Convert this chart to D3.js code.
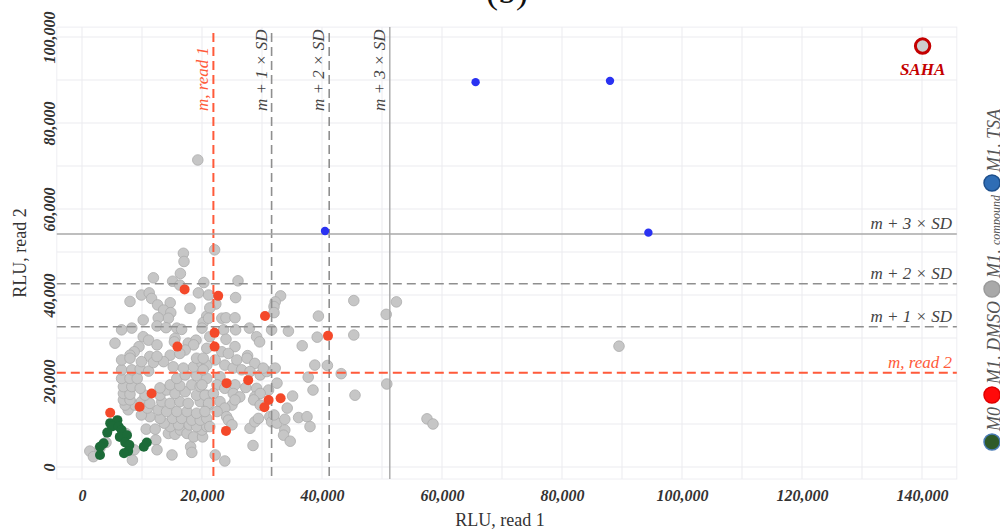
<!DOCTYPE html>
<html>
<head>
<meta charset="utf-8">
<script src="https://cdn.jsdelivr.net/npm/d3@7"></script>
<style>
  body { margin: 0; background: #fff; }
  svg { display: block; font-family: "Liberation Serif", "Times New Roman", serif; }
</style>
</head>
<body>
<div id="chart"></div>
<script>
// values in thousands of RLU: [read 1, read 2]
const m0Points = [
  [4.7,10.2],[5.9,10.9],[5.0,9.4],[6.1,9.4],[6.6,8.6],[4.2,8.0],[6.3,7.0],[7.5,7.4],[7.2,5.7],
  [3.6,5.5],[3.0,4.7],[7.9,5.1],[10.8,5.7],[10.3,4.7],[7.7,3.7],[7.0,3.2],[3.0,2.8]
];
const dmsoPoints = [
  [17.1,41.3],[22.7,39.8],[30.5,35.1],[22.1,31.2],[41.0,30.5],[15.9,28.0],[22.1,28.0],[4.7,12.6],
  [9.6,14.0],[11.6,17.1],[24.1,19.5],[27.7,20.2],[31.1,15.6],[33.1,16.0],[30.4,13.9],[24.0,8.4]
];
const tsaPoints = [[65.6,89.5],[88.0,89.8],[40.5,54.9],[94.4,54.5]];
const sahaPoint = [140.1,97.9];
const compoundPoints = [
  [19.3,71.4],[89.5,28.1],[57.5,11.2],[58.5,10.0],[50.8,19.3],[45.5,16.7],[38.5,17.9],[45.3,38.7],
  [52.4,38.4],[50.7,35.5],[45.3,30.7],[39.4,35.1],[39.2,30.2],[36.7,28.2],[38.8,23.7],[40.9,23.6],
  [43.2,21.7],[37.7,20.9],[35.1,16.5],[34.4,31.6],[33.1,39.8],
  [16.9,49.7],[17.0,47.8],[11.9,44.0],[16.4,45.0],[15.1,43.2],[20.3,42.9],[16.3,42.3],[19.4,40.5],
  [21.1,40.0],[9.9,40.0],[11.2,40.5],[11.6,39.2],[8.0,38.5],[12.6,37.7],[14.7,38.2],[13.6,36.5],
  [18.0,36.9],[14.8,35.9],[14.4,34.6],[12.7,34.7],[10.2,34.2],[20.8,35.1],[20.2,33.6],[12.5,32.8],
  [14.0,32.4],[15.8,32.3],[16.6,32.0],[8.3,32.3],[6.6,31.9],[10.2,30.3],[11.1,29.5],[12.5,28.4],
  [15.5,29.9],[15.4,29.1],[17.7,28.8],[19.0,29.5],[18.6,28.4],[17.2,27.2],[9.5,28.0],[5.5,28.8],
  [8.7,26.8],[8.0,26.0],[20.8,27.6],[14.7,26.0],[11.3,25.7],[16.3,26.4],
  [22.1,50.5],[26.0,43.3],[25.6,39.4],[22.3,37.9],[21.3,37.0],[32.2,38.4],[32.0,37.3],[32.0,35.9],
  [23.3,34.6],[24.0,34.7],[25.5,34.7],[21.1,34.6],[20.0,32.3],[23.6,31.9],[25.6,31.9],[27.9,32.3],
  [31.6,31.9],[21.3,30.3],[24.0,29.7],[29.1,30.3],[29.6,29.1],[25.5,28.0],[23.3,26.8],[24.4,26.4],
  [27.6,25.9],
  [1.3,3.7],[1.9,2.4],[4.0,5.7],[7.3,7.8],[8.7,4.0],[8.4,1.6],[12.3,6.3],[12.5,4.0],[10.7,8.8],
  [12.2,8.8],[15.0,2.8],[18.1,4.7],[18.3,3.4],[14.4,7.8],[15.5,7.6],[16.4,8.6],[17.5,7.8],[18.6,7.0],
  [20.1,7.0],[20.0,8.6],[14.7,9.4],[16.1,9.8],[17.9,9.8],[19.1,9.4],[20.8,9.4],[13.7,10.2],[13.0,11.3],
  [15.1,11.3],[16.6,11.3],[18.3,10.9],[19.7,10.9],[20.8,11.3],[11.3,11.7],[9.9,12.1],[12.7,13.3],
  [14.1,12.9],[15.8,12.9],[17.5,12.9],[19.1,12.5],[7.7,13.3],[8.8,14.4],[10.9,13.7],[7.2,14.4],
  [6.9,15.6],[8.0,15.6],[9.9,15.2],[11.3,14.8],[13.3,15.2],[14.7,14.8],[16.3,15.2],[17.7,14.8],
  [19.7,15.2],[21.1,14.4],[6.9,17.1],[8.0,16.9],[10.5,16.7],[13.0,16.7],[14.1,17.9],[15.5,17.1],
  [17.2,17.5],[19.1,16.7],[20.8,16.7],[6.9,18.7],[8.3,18.7],[9.7,18.3],[13.0,18.4],[14.7,19.1],
  [16.3,18.9],[18.3,19.1],[19.7,18.7],[6.6,20.6],[8.0,20.6],[9.2,20.6],[15.8,20.6],[17.2,21.4],
  [19.1,21.2],[20.8,20.6],[6.6,22.6],[8.3,22.6],[9.7,22.8],[11.1,22.3],[11.9,24.3],[13.6,24.5],
  [9.9,24.5],[6.6,24.9],[8.0,25.3],[15.2,23.3],[16.9,23.0],[18.6,23.3],[20.0,24.1],[19.1,25.3],
  [20.8,23.7],[12.5,25.7],
  [20.2,25.3],[22.2,24.9],[23.8,23.7],[25.2,23.0],[25.8,24.9],[27.5,25.3],[28.8,24.1],[26.6,22.6],
  [28.0,22.2],[29.7,21.4],[30.8,22.2],[32.2,23.0],[30.2,23.0],[20.2,22.6],[23.0,21.0],[20.0,19.1],
  [22.5,19.1],[23.8,18.3],[25.5,19.1],[27.3,18.5],[29.1,18.3],[31.1,17.9],[32.5,19.5],[20.5,16.7],
  [21.9,17.1],[25.2,17.1],[26.3,16.3],[28.8,16.3],[29.7,17.1],[34.2,13.7],[21.1,14.8],[23.0,15.2],
  [25.0,14.4],[25.5,15.6],[23.8,13.7],[28.6,15.6],[29.7,14.4],[20.5,12.9],[22.5,12.9],[24.1,11.7],
  [24.4,10.9],[21.3,9.4],[25.0,9.8],[28.0,9.0],[28.8,10.5],[29.4,11.3],[31.3,11.7],[31.6,10.5],
  [32.5,10.2],[32.0,12.1],[33.8,11.1],[36.1,11.5],[37.5,11.7],[38.0,9.4],[33.8,8.6],[33.6,7.4],
  [34.7,6.0],[28.5,5.0],[22.2,2.8],[23.8,1.4],[3.0,4.4]
];

// mean and mean + k*SD thresholds (thousands)
const vRefValues = [21.9, 31.6, 41.2, 51.3];
const vRefLabels = ["m, read 1", "m + 1 × SD", "m + 2 × SD", "m + 3 × SD"];
const hRefValues = [21.9, 32.6, 42.6, 54.2];
const hRefLabels = ["m, read 2", "m + 1 × SD", "m + 2 × SD", "m + 3 × SD"];

const xTicks = [0, 20, 40, 60, 80, 100, 120, 140];
const yTicks = [0, 20, 40, 60, 80, 100];
const legendLabels = ["M0", "M1, DMSO", "M1, compound", "M1, TSA"];

const W = 1000, H = 531;
const x = d3.scaleLinear().domain([0, 140]).range([82, 922]);
const y = d3.scaleLinear().domain([0, 100]).range([467, 37]);
const panel = { x0: x(-4.2), x1: x(145.8), y0: y(102.3), y1: y(-2.8) };
const fmt = d => d3.format(",")(d * 1000);

const refStyle = [
  { stroke: "#ff5a3a", width: 2, dash: "9,5", text: "#ff5a3a" },
  { stroke: "#8f8f8f", width: 1.6, dash: "9,5", text: "#444" },
  { stroke: "#8f8f8f", width: 1.6, dash: "9,5", text: "#444" },
  { stroke: "#a8a8a8", width: 1.4, dash: null, text: "#444" }
];

const svg = d3.select("#chart").append("svg")
  .attr("width", W).attr("height", H);

// title (cut at the top, as in the figure)
svg.append("text")
  .attr("x", 507).attr("y", 3)
  .attr("text-anchor", "middle")
  .style("font-size", "36px")
  .attr("fill", "#111")
  .text("(b)");

// panel + grid
svg.append("rect")
  .attr("x", panel.x0).attr("y", panel.y0)
  .attr("width", panel.x1 - panel.x0).attr("height", panel.y1 - panel.y0)
  .attr("fill", "#fff").attr("stroke", "#eeeef2");

const grid = svg.append("g").attr("stroke", "#ebebef").attr("stroke-width", 1);
grid.selectAll("line.gx")
  .data(d3.range(0, 141, 10))
  .enter().append("line")
  .attr("x1", d => x(d)).attr("x2", d => x(d))
  .attr("y1", panel.y0).attr("y2", panel.y1);
grid.selectAll("line.gy")
  .data(d3.range(0, 101, 10))
  .enter().append("line")
  .attr("x1", panel.x0).attr("x2", panel.x1)
  .attr("y1", d => y(d)).attr("y2", d => y(d));

// axes
const xAxis = d3.axisBottom(x).tickValues(xTicks).tickFormat(fmt).tickSize(0).tickPadding(11);
svg.append("g")
  .attr("transform", `translate(0,${panel.y1})`)
  .call(xAxis)
  .call(g => g.select(".domain").remove())
  .selectAll("text")
  .style("font-family", "'Liberation Serif', serif")
  .style("font-size", "16px").style("font-weight", "bold").style("font-style", "italic")
  .attr("fill", "#333");

const yAxis = d3.axisLeft(y).tickValues(yTicks).tickFormat(fmt).tickSize(0);
svg.append("g")
  .attr("transform", `translate(${panel.x0},0)`)
  .call(yAxis)
  .call(g => g.select(".domain").remove())
  .selectAll("text")
  .attr("x", 0).attr("dy", 0)
  .attr("transform", "translate(-2,0) rotate(-90)")
  .style("text-anchor", "middle")
  .style("font-family", "'Liberation Serif', serif")
  .style("font-size", "16px").style("font-weight", "bold").style("font-style", "italic")
  .attr("fill", "#333");

svg.append("text")
  .attr("x", 500).attr("y", 526)
  .attr("text-anchor", "middle")
  .style("font-size", "18px").attr("fill", "#333")
  .text("RLU, read 1");
svg.append("text")
  .attr("transform", `translate(26,${(panel.y0 + panel.y1) / 2}) rotate(-90)`)
  .attr("text-anchor", "middle")
  .style("font-size", "18px").attr("fill", "#333")
  .text("RLU, read 2");

// compound points (under the reference lines)
svg.append("g").selectAll("circle")
  .data(compoundPoints)
  .enter().append("circle")
  .attr("cx", d => x(d[0])).attr("cy", d => y(d[1]))
  .attr("r", 5.3)
  .attr("fill", "#c6c6c6").attr("stroke", "#acacac").attr("stroke-width", 0.8);

// reference lines
const vRef = svg.append("g");
vRefValues.forEach((v, i) => {
  const s = refStyle[i];
  vRef.append("line")
    .attr("x1", x(v)).attr("x2", x(v))
    .attr("y1", i === 3 ? panel.y0 : panel.y0 + 6).attr("y2", panel.y1)
    .attr("stroke", s.stroke).attr("stroke-width", s.width)
    .attr("stroke-dasharray", s.dash);
  vRef.append("text")
    .attr("transform", `translate(${x(v) - 5},111) rotate(-90)`)
    .style("font-size", "17px").style("font-style", "italic")
    .attr("fill", s.text)
    .text(vRefLabels[i]);
});

const hRef = svg.append("g");
hRefValues.forEach((v, i) => {
  const s = refStyle[i];
  hRef.append("line")
    .attr("x1", panel.x0).attr("x2", panel.x1)
    .attr("y1", y(v)).attr("y2", y(v))
    .attr("stroke", s.stroke).attr("stroke-width", s.width)
    .attr("stroke-dasharray", s.dash);
  hRef.append("text")
    .attr("x", 952).attr("y", y(v) - 5)
    .attr("text-anchor", "end")
    .style("font-size", "17px").style("font-style", "italic")
    .attr("fill", s.text)
    .text(hRefLabels[i]);
});

// coloured groups
const drawPoints = (data, fill, r) => svg.append("g").selectAll("circle")
  .data(data)
  .enter().append("circle")
  .attr("cx", d => x(d[0])).attr("cy", d => y(d[1]))
  .attr("r", r).attr("fill", fill);

drawPoints(dmsoPoints, "#f4492a", 5);
drawPoints(m0Points, "#1c6b38", 5);
drawPoints(tsaPoints, "#2a32f2", 4.2);

// SAHA control
svg.append("circle")
  .attr("cx", x(sahaPoint[0])).attr("cy", y(sahaPoint[1]))
  .attr("r", 7.2)
  .attr("fill", "#cdcdcd").attr("stroke", "#c40000").attr("stroke-width", 3);
svg.append("text")
  .attr("x", x(sahaPoint[0])).attr("y", y(sahaPoint[1]) + 29)
  .attr("text-anchor", "middle")
  .style("font-size", "17px").style("font-weight", "bold").style("font-style", "italic")
  .attr("fill", "#c40000")
  .text("SAHA");

// legend, vertical, read bottom to top; clipped by the right edge like the figure
const legendColors = [
  { fill: "#2f5a28", stroke: "#4a7bb5" },
  { fill: "#ff0a0a", stroke: "#e00000" },
  { fill: "#a9a9a9", stroke: "#9a9a9a" },
  { fill: "#2f6db5", stroke: "#1d4f8c" }
];
const legend = svg.append("g");
let ly = 442;
legendLabels.forEach((lab, i) => {
  legend.append("circle")
    .attr("cx", 992).attr("cy", ly).attr("r", 8)
    .attr("fill", legendColors[i].fill)
    .attr("stroke", legendColors[i].stroke).attr("stroke-width", 1.5);
  const t = legend.append("text")
    .attr("transform", `translate(1000,${ly - 11}) rotate(-90)`)
    .style("font-size", "18px").style("font-style", "italic")
    .attr("fill", "#555");
  const parts = lab.split(", ");
  if (parts.length > 1) {
    t.append("tspan").text(parts[0] + ", ");
    t.append("tspan").style("font-size", parts[1] === "compound" ? "12px" : "18px").text(parts[1]);
  } else {
    t.text(lab);
  }
  ly = ly - 11 - t.node().getComputedTextLength() - 12;
});
</script>
</body>
</html>
